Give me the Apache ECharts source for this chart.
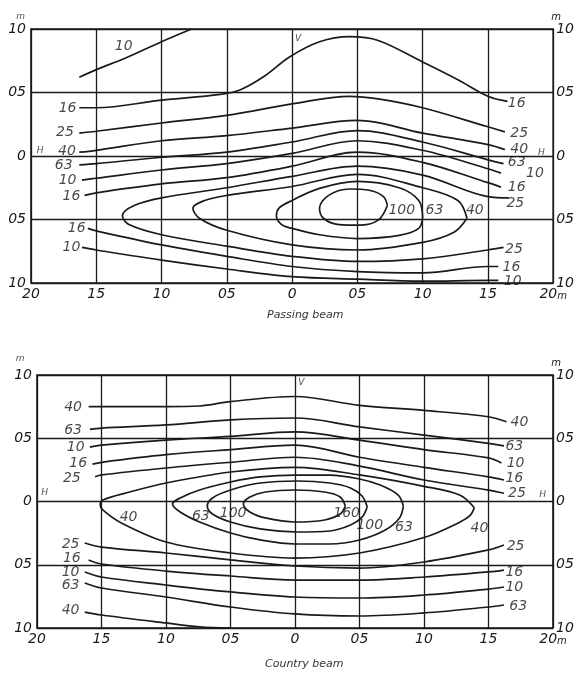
<!DOCTYPE html>
<html><head><meta charset="utf-8">
<script src="https://cdn.jsdelivr.net/npm/echarts@6/dist/echarts.min.js"></script>
<style>html,body{margin:0;padding:0;background:#fff}#c{width:577px;height:673px}</style>
</head><body><div id="c"></div>
<script>
// ---- tick labels (as printed, decimal points lost in the original) ----
const xTickLabels = ['20','15','10','05','0','05','10','15','20'];
const yTickLabels = ['10','05','0','05','10'];

// ---- Passing beam isolux lines [x m, y m] ----
const pass10a = [[-1.63,0.62],[-1.5,0.68],[-1.28,0.77],[-1.0,0.90],[-0.77,1.0]];
const pass16 = [[-1.63,0.38],[-1.5,0.38],[-1.0,0.44],[-0.55,0.485],[-0.4,0.52],[-0.21,0.63],[-0.02,0.78],[0.21,0.90],[0.44,0.94],[0.66,0.91],[1.0,0.74],[1.27,0.60],[1.5,0.47],[1.65,0.43]];
const pass25 = [[-1.63,0.18],[-1.5,0.195],[-1.0,0.26],[-0.5,0.32],[0,0.41],[0.44,0.47],[0.66,0.45],[1.0,0.38],[1.5,0.23],[1.63,0.19]];
const pass40 = [[-1.63,0.03],[-1.5,0.045],[-1.0,0.12],[-0.5,0.16],[0,0.22],[0.5,0.28],[1.0,0.18],[1.5,0.09],[1.63,0.05]];
const pass63 = [[-1.63,-0.07],[-1.5,-0.06],[-1.0,-0.01],[-0.5,0.03],[0,0.11],[0.5,0.20],[1.0,0.11],[1.5,-0.03],[1.62,-0.06]];
const pass100 = [[-1.61,-0.19],[-1.5,-0.175],[-1.0,-0.11],[-0.5,-0.06],[0,0.02],[0.5,0.12],[1.0,0.045],[1.5,-0.10],[1.6,-0.135]];
const pass160 = [[-1.59,-0.31],[-1.5,-0.29],[-1.0,-0.22],[-0.5,-0.17],[0,-0.08],[0.5,0.03],[1.0,-0.05],[1.5,-0.21],[1.6,-0.245]];
const pass250 = [[1.66,-0.33],[1.5,-0.32],[1.0,-0.15],[0.5,-0.08],[0,-0.16],[-0.5,-0.25],[-1.0,-0.33],[-1.21,-0.39],[-1.30,-0.47],[-1.25,-0.54],[-1.0,-0.62],[-0.5,-0.71],[0,-0.79],[0.5,-0.83],[1.0,-0.81],[1.5,-0.74],[1.62,-0.72]];
const pass400 = [[1.34,-0.49],[1.27,-0.35],[1.0,-0.25],[0.5,-0.145],[0,-0.24],[-0.5,-0.31],[-0.67,-0.35],[-0.76,-0.41],[-0.71,-0.49],[-0.5,-0.585],[0,-0.70],[0.5,-0.74],[1.0,-0.68],[1.24,-0.60],[1.34,-0.49]];
const pass630 = [[1.0,-0.48],[0.97,-0.35],[0.82,-0.25],[0.5,-0.20],[0.21,-0.255],[0,-0.35],[-0.10,-0.41],[-0.12,-0.47],[-0.08,-0.54],[0,-0.57],[0.21,-0.62],[0.5,-0.65],[0.82,-0.625],[0.97,-0.57],[1.0,-0.48]];
const pass1000 = [[0.73,-0.39],[0.70,-0.32],[0.59,-0.27],[0.44,-0.26],[0.28,-0.31],[0.21,-0.41],[0.24,-0.49],[0.36,-0.54],[0.51,-0.545],[0.66,-0.505],[0.73,-0.39]];
const pass160low = [[-1.565,-0.57],[-1.5,-0.59],[-1.0,-0.70],[-0.5,-0.79],[0,-0.87],[0.5,-0.91],[1.0,-0.92],[1.5,-0.87],[1.58,-0.87]];
const pass100low = [[-1.61,-0.72],[-1.5,-0.74],[-1.0,-0.82],[-0.5,-0.89],[0,-0.95],[0.5,-0.97],[1.0,-0.985],[1.5,-0.98],[1.58,-0.98]];

// ---- Country beam isolux lines ----
const cty40 = [[-1.60,0.75],[-1.5,0.75],[-1.0,0.75],[-0.74,0.755],[-0.5,0.79],[0,0.83],[0.5,0.76],[1.0,0.72],[1.5,0.67],[1.64,0.63]];
const cty63 = [[-1.59,0.57],[-1.5,0.58],[-1.0,0.605],[-0.5,0.645],[0,0.66],[0.5,0.59],[1.0,0.525],[1.5,0.46],[1.62,0.44]];
const cty100 = [[-1.59,0.43],[-1.5,0.445],[-1.0,0.485],[-0.5,0.515],[0,0.55],[0.5,0.485],[1.0,0.41],[1.5,0.345],[1.60,0.305]];
const cty160 = [[-1.57,0.295],[-1.5,0.31],[-1.0,0.37],[-0.5,0.41],[0,0.445],[0.5,0.35],[1.0,0.27],[1.5,0.195],[1.62,0.17]];
const cty250 = [[-1.55,0.195],[-1.5,0.21],[-1.0,0.265],[-0.5,0.31],[0,0.35],[0.5,0.28],[1.0,0.17],[1.5,0.09],[1.62,0.065]];
const cty400 = [[1.39,-0.05],[1.28,0.05],[1.0,0.12],[0.5,0.21],[0,0.27],[-0.5,0.233],[-1.0,0.146],[-1.28,0.075],[-1.49,0.012],[-1.51,-0.028],[-1.49,-0.067],[-1.36,-0.162],[-1.0,-0.32],[-0.5,-0.407],[0,-0.447],[0.5,-0.407],[1.0,-0.285],[1.28,-0.162],[1.36,-0.107],[1.39,-0.05]];
const cty630 = [[0.84,-0.036],[0.80,0.051],[0.66,0.13],[0.5,0.178],[0.27,0.209],[0,0.209],[-0.27,0.194],[-0.5,0.154],[-0.74,0.091],[-0.89,0.028],[-0.95,-0.02],[-0.89,-0.083],[-0.74,-0.162],[-0.5,-0.249],[-0.27,-0.304],[0,-0.336],[0.27,-0.336],[0.5,-0.304],[0.70,-0.225],[0.81,-0.13],[0.84,-0.036]];
const cty1000 = [[0.56,-0.043],[0.52,0.043],[0.43,0.107],[0.27,0.146],[0.02,0.162],[-0.27,0.146],[-0.5,0.091],[-0.64,0.028],[-0.68,-0.036],[-0.64,-0.099],[-0.5,-0.162],[-0.27,-0.217],[0.02,-0.241],[0.27,-0.233],[0.43,-0.186],[0.52,-0.123],[0.56,-0.043]];
const cty1600 = [[0.39,-0.036],[0.35,0.036],[0.23,0.075],[0,0.091],[-0.23,0.075],[-0.35,0.036],[-0.40,-0.02],[-0.35,-0.083],[-0.23,-0.13],[0,-0.162],[0.23,-0.146],[0.35,-0.099],[0.39,-0.036]];
const cty250low = [[-1.63,-0.328],[-1.5,-0.36],[-1.0,-0.407],[-0.5,-0.462],[0,-0.51],[0.5,-0.526],[1.0,-0.478],[1.5,-0.383],[1.62,-0.344]];
const cty160low = [[-1.60,-0.462],[-1.5,-0.494],[-1.0,-0.55],[-0.5,-0.589],[0,-0.621],[0.5,-0.621],[1.0,-0.597],[1.5,-0.557],[1.62,-0.542]];
const cty100low = [[-1.63,-0.557],[-1.5,-0.597],[-1.0,-0.66],[-0.5,-0.715],[0,-0.755],[0.5,-0.763],[1.0,-0.739],[1.5,-0.692],[1.62,-0.676]];
const cty63low = [[-1.63,-0.644],[-1.5,-0.684],[-1.0,-0.755],[-0.5,-0.834],[0,-0.889],[0.5,-0.905],[1.0,-0.881],[1.5,-0.834],[1.62,-0.818]];
const cty40low = [[-1.63,-0.874],[-1.5,-0.897],[-1.0,-0.96],[-0.74,-0.99],[-0.5,-1.0]];

// ---- contour value labels [text, x, y] ----
const passLabels = [
  ['10',-1.29,0.864],['16',-1.72,0.376],['25',-1.74,0.187],['40',-1.725,0.037],['63',-1.75,-0.073],
  ['10',-1.72,-0.191],['16',-1.69,-0.317],['16',-1.65,-0.569],['10',-1.69,-0.718],
  ['16',1.72,0.415],['25',1.74,0.179],['40',1.74,0.053],['63',1.72,-0.049],['10',1.86,-0.136],
  ['16',1.72,-0.246],['25',1.71,-0.372],['25',1.70,-0.734],['16',1.68,-0.876],['10',1.69,-0.986],
  ['100',0.84,-0.427],['63',1.09,-0.427],['40',1.40,-0.427]
];
const ctyLabels = [
  ['40',-1.72,0.747],['63',-1.72,0.565],['10',-1.70,0.431],['16',-1.68,0.304],['25',-1.73,0.186],
  ['40',1.74,0.628],['63',1.70,0.439],['10',1.71,0.304],['16',1.70,0.186],['25',1.72,0.067],
  ['25',-1.74,-0.336],['16',-1.73,-0.447],['10',-1.74,-0.557],['63',-1.74,-0.660],['40',-1.74,-0.858],
  ['25',1.71,-0.352],['16',1.70,-0.557],['10',1.70,-0.676],['63',1.73,-0.826],
  ['40',-1.29,-0.123],['63',-0.73,-0.115],['100',-0.48,-0.091],['160',0.40,-0.091],['100',0.58,-0.186],['63',0.845,-0.202],['40',1.43,-0.209]
];
const passMarks = [['V',0.046,0.927],['H',-1.93,0.045],['H',1.91,0.03],['m',-2.08,1.1]];
const ctyMarks = [['V',0.05,0.94],['H',-1.94,0.067],['H',1.92,0.051],['m',-2.13,1.13]];

const passLines = [pass10a,pass16,pass25,pass40,pass63,pass100,pass160,pass250,pass400,pass630,pass1000,pass160low,pass100low];
const ctyLines = [cty40,cty63,cty100,cty160,cty250,cty400,cty630,cty1000,cty1600,cty250low,cty160low,cty100low,cty63low,cty40low];

const INK = '#1a1a1a';
const FONT = 'DejaVu Sans';
const chart = echarts.init(document.getElementById('c'));

function xAxisFor(g){
  return {type:'value', gridIndex:g, min:-2, max:2, interval:0.5,
    axisLine:{show:false}, axisTick:{show:false},
    splitLine:{show:true, lineStyle:{color:INK, width:1.3}},
    axisLabel:{margin:4, color:INK, fontSize:14, fontStyle:'italic', fontFamily:FONT,
      formatter:v=>{const s=xTickLabels[Math.round((v+2)/0.5)]; return v===2? s+'{m|m}' : s;},
      rich:{m:{fontSize:10, fontStyle:'italic', fontFamily:FONT, color:INK, padding:[4,0,0,0]}}}};
}
function yAxisFor(g, side){
  const ax = {type:'value', gridIndex:g, min:-1, max:1, interval:0.5, position:side,
    axisLine:{show:false}, axisTick:{show:false},
    splitLine:{show: side==='left', lineStyle:{color:INK, width:1.3}},
    axisLabel:{margin: side==='left'?5:3, color:INK, fontSize:14, fontStyle:'italic', fontFamily:FONT,
      formatter:v=>yTickLabels[Math.round((1-v)/0.5)]}};
  if(side==='right'){
    ax.name='m'; ax.nameLocation='end'; ax.nameGap=5;
    ax.nameTextStyle={color:INK, fontSize:10, fontStyle:'italic', fontFamily:FONT, padding:[0,0,0,6]};
  }
  return ax;
}
function lineSeries(data, g){
  return {type:'line', xAxisIndex:g, yAxisIndex:g*2, data:data, smooth:0.35, symbol:'none',
    lineStyle:{color:INK, width:1.7}, silent:true, animation:false, z:3};
}
function textSeries(list, g, size){
  return {type:'scatter', xAxisIndex:g, yAxisIndex:g*2, symbolSize:1, itemStyle:{color:'rgba(0,0,0,0)'},
    silent:true, animation:false, z:5, clip:false,
    data:list.map(l=>({value:[l[1],l[2]], name:l[0]})),
    label:{show:true, position:'inside', formatter:p=>p.name, color:INK, fontSize:size, fontStyle:'italic', fontFamily:FONT}};
}

const series = [];
passLines.forEach(d=>series.push(lineSeries(d,0)));
ctyLines.forEach(d=>series.push(lineSeries(d,1)));
series.push(textSeries(passLabels,0,14));
series.push(textSeries(ctyLabels,1,14));
series.push(textSeries(passMarks,0,9));
series.push(textSeries(ctyMarks,1,9));

chart.setOption({
  backgroundColor:'#fff',
  animation:false,
  title:[
    {text:'Passing beam', left:262, top:305, textStyle:{fontSize:11, fontStyle:'italic', fontWeight:'normal', color:'#333', fontFamily:FONT}},
    {text:'Country beam', left:260, top:654, textStyle:{fontSize:11, fontStyle:'italic', fontWeight:'normal', color:'#333', fontFamily:FONT}}
  ],
  grid:[
    {left:31, right:23, top:29, height:254, show:true, borderColor:INK, borderWidth:1.6, backgroundColor:'transparent'},
    {left:37, right:24, top:375, height:253, show:true, borderColor:INK, borderWidth:1.6, backgroundColor:'transparent'}
  ],
  xAxis:[xAxisFor(0), xAxisFor(1)],
  yAxis:[yAxisFor(0,'left'), yAxisFor(0,'right'), yAxisFor(1,'left'), yAxisFor(1,'right')],
  series:series
});
</script></body></html>
